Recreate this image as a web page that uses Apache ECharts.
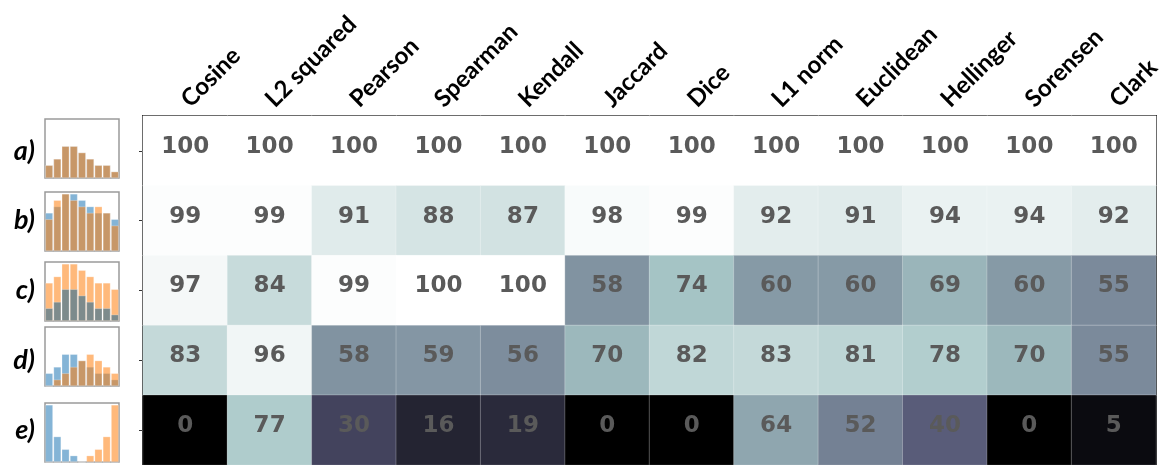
<!DOCTYPE html>
<html>
<head>
<meta charset="utf-8">
<script src="https://cdn.jsdelivr.net/npm/echarts@6/dist/echarts.min.js"></script>
<style>
  html, body { margin: 0; padding: 0; background: #fff; }
  #chart { width: 1166px; height: 465px; }
</style>
</head>
<body>
<div id="chart"></div>
<script>
// columns and rows of the similarity table
const metrics = ['Cosine', 'L2 squared', 'Pearson', 'Spearman', 'Kendall', 'Jaccard',
  'Dice', 'L1 norm', 'Euclidean', 'Hellinger', 'Sorensen', 'Clark'];
const rows = ['a)', 'b)', 'c)', 'd)', 'e)'];

const scoresA = [100, 100, 100, 100, 100, 100, 100, 100, 100, 100, 100, 100];
const scoresB = [99, 99, 91, 88, 87, 98, 99, 92, 91, 94, 94, 92];
const scoresC = [97, 84, 99, 100, 100, 58, 74, 60, 60, 69, 60, 55];
const scoresD = [83, 96, 58, 59, 56, 70, 82, 83, 81, 78, 70, 55];
const scoresE = [0, 77, 30, 16, 19, 0, 0, 64, 52, 40, 0, 5];

// little histograms shown next to each row (9 bins)
const binsFront = [
  [2, 3, 5, 5, 4, 3, 2, 2, 1],
  [6, 7, 9, 9, 8, 7, 6, 6, 5],
  [2, 3, 5, 5, 4, 3, 2, 2, 1],
  [2, 3, 5, 5, 4, 3, 2, 2, 1],
  [9, 4, 2, 1, 0, 0, 0, 0, 0]
];
const binsBack = [
  [2, 3, 5, 5, 4, 3, 2, 2, 1],
  [5, 8, 9, 8, 7, 6, 7, 6, 4],
  [6, 7, 9, 9, 8, 7, 6, 6, 5],
  [0, 1, 2, 3, 4, 5, 4, 3, 2],
  [0, 0, 0, 0, 0, 1, 2, 4, 9]
];

const allScores = [scoresA, scoresB, scoresC, scoresD, scoresE];

// matplotlib "bone" colormap
function bone(t) {
  let r = t < 0.746032 ? t / 0.746032 * 0.652778
    : 0.652778 + (t - 0.746032) / 0.253968 * 0.347222;
  let g = t < 0.365079 ? t / 0.365079 * 0.319444
    : t < 0.746032 ? 0.319444 + (t - 0.365079) / 0.380953 * 0.458334
    : 0.777778 + (t - 0.746032) / 0.253968 * 0.222222;
  let b = t < 0.365079 ? t / 0.365079 * 0.444444
    : 0.444444 + (t - 0.365079) / 0.634921 * 0.555556;
  return 'rgb(' + Math.round(r * 255) + ',' + Math.round(g * 255) + ',' + Math.round(b * 255) + ')';
}
let boneColors = [];
for (let i = 0; i <= 100; i++) boneColors.push(bone(i / 100));

let heatData = [];
allScores.forEach((list, r) => {
  list.forEach((v, c) => heatData.push([c, r, v]));
});

const thumbTops = [119, 192, 262, 327, 403];
const frontColors = ['rgba(31,119,180,0.55)', 'rgba(31,119,180,0.55)', '#7d8b8c',
  'rgba(31,119,180,0.55)', 'rgba(31,119,180,0.55)'];
const backColor = 'rgba(255,127,14,0.55)';

let grids = [{ left: 143, top: 116, width: 1013, height: 350, show: true, borderColor: '#111', borderWidth: 2 }];
let xAxes = [{
  type: 'category',
  data: metrics,
  position: 'top',
  gridIndex: 0,
  axisLine: { show: false },
  axisTick: { show: false },
  splitLine: { show: false },
  axisLabel: {
    interval: 0,
    rotate: -45,
    margin: 13,
    color: '#000',
    fontFamily: 'Lato, "Open Sans", sans-serif',
    fontWeight: 'bold',
    fontSize: 24
  }
}];
let yAxes = [{
  type: 'category',
  data: rows,
  inverse: true,
  gridIndex: 0,
  axisLine: { show: false },
  axisTick: { show: true, alignWithLabel: true, length: 4, lineStyle: { color: '#333' } },
  axisLabel: {
    margin: 108,
    color: '#000',
    fontFamily: 'Lato, "Open Sans", sans-serif',
    fontWeight: 'bold',
    fontStyle: 'italic',
    fontSize: 27
  }
}];
let series = [{
  type: 'heatmap',
  xAxisIndex: 0,
  yAxisIndex: 0,
  data: heatData,
  itemStyle: { borderColor: 'rgba(255,255,255,0.25)', borderWidth: 1 },
  label: {
    show: true,
    formatter: p => p.value[2],
    offset: [0, -4],
    color: '#5a5a5a',
    fontFamily: '"DejaVu Sans", sans-serif',
    fontWeight: 'bold',
    fontSize: 23
  },
  emphasis: { disabled: true }
}];

rows.forEach((r, i) => {
  grids.push({ left: 45, top: thumbTops[i], width: 74, height: 59, show: true, borderColor: '#9a9a9a', borderWidth: 1.5 });
  xAxes.push({
    type: 'category', gridIndex: i + 1, data: binsBack[i].map((v, k) => k),
    axisLine: { show: false }, axisTick: { show: false }, axisLabel: { show: false }
  });
  yAxes.push({
    type: 'value', gridIndex: i + 1, min: 0, max: 9.3,
    axisLine: { show: false }, axisTick: { show: false }, axisLabel: { show: false }, splitLine: { show: false }
  });
  const front = {
    type: 'bar', xAxisIndex: i + 1, yAxisIndex: i + 1, data: binsFront[i],
    barCategoryGap: '8%', barGap: '-100%', silent: true,
    itemStyle: { color: frontColors[i], borderColor: 'rgba(255,255,255,0.5)', borderWidth: 0.5 }
  };
  const back = {
    type: 'bar', xAxisIndex: i + 1, yAxisIndex: i + 1, data: binsBack[i],
    barCategoryGap: '8%', barGap: '-100%', silent: true,
    itemStyle: { color: backColor, borderColor: 'rgba(255,255,255,0.5)', borderWidth: 0.5 }
  };
  // row c: the grey histogram sits on top of the orange one
  if (i === 2) series.push(back, front);
  else series.push(front, back);
});

let option = {
  animation: false,
  backgroundColor: '#fff',
  grid: grids,
  xAxis: xAxes,
  yAxis: yAxes,
  visualMap: {
    show: false,
    type: 'continuous',
    min: 0,
    max: 100,
    seriesIndex: 0,
    inRange: { color: boneColors }
  },
  series: series
};

let mychart = echarts.init(document.getElementById('chart'));
mychart.setOption(option);
</script>
</body>
</html>
